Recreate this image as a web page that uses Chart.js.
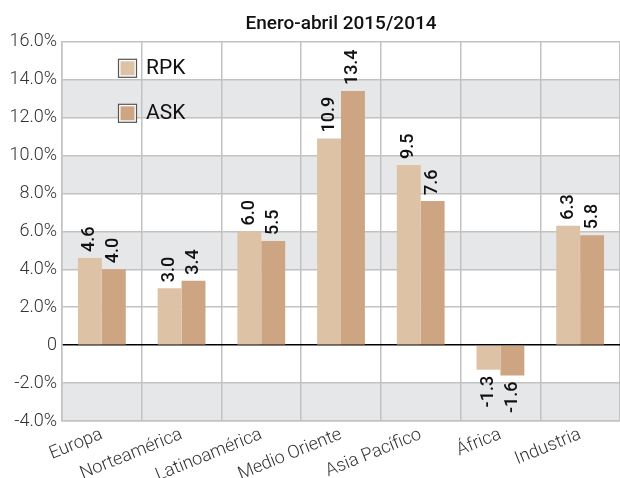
<!DOCTYPE html>
<html>
<head>
<meta charset="utf-8">
<script src="https://cdn.jsdelivr.net/npm/chart.js@4.4.1/dist/chart.umd.min.js"></script>
<style>
  html, body { margin: 0; padding: 0; background: #fff; }
  #chart { display: block; }
</style>
</head>
<body>
<canvas id="chart" width="620" height="478"></canvas>
<script>
// datos enero-abril 2015 vs 2014 (%)
const regiones = ["Europa", "Norteamérica", "Latinoamérica", "Medio Oriente", "Asia Pacífico", "África", "Industria"];
const rpk = [4.6, 3.0, 6.0, 10.9, 9.5, -1.3, 6.3];
const ask = [4.0, 3.4, 5.5, 13.4, 7.6, -1.6, 5.8];
const series = ["RPK", "ASK"];
const yTicks = ["-4.0%", "-2.0%", "0", "2.0%", "4.0%", "6.0%", "8.0%", "10.0%", "12.0%", "14.0%", "16.0%"];
const titulo = "Enero-abril 2015/2014";

const colores = ["#dec2a6", "#cea582"];
const franjas = [[12, 14], [8, 10], [4, 6], [-4, -2]]; // bandas grises
const FONT = "Roboto, 'Liberation Sans', sans-serif";
const GRIS = "#c2c2c2";

// fondo blanco + bandas alternas
const bandas = {
    id: "bandas",
    beforeDraw(chart) {
        const { ctx, chartArea: a, scales } = chart;
        ctx.save();
        ctx.fillStyle = "#fff";
        ctx.fillRect(0, 0, chart.width, chart.height);
        ctx.fillStyle = "#e6e7e9";
        franjas.forEach(([lo, hi]) => {
            const t = scales.y.getPixelForValue(hi);
            const b = scales.y.getPixelForValue(lo);
            ctx.fillRect(a.left, t, a.right - a.left, b - t);
        });
        ctx.restore();
    },
};

// valores girados encima / debajo de cada barra
const etiquetas = {
    id: "etiquetas",
    afterDatasetsDraw(chart) {
        const ctx = chart.ctx;
        ctx.save();
        ctx.font = `500 18px ${FONT}`;
        ctx.fillStyle = "#111";
        ctx.textBaseline = "middle";
        chart.data.datasets.forEach((ds, i) => {
            chart.getDatasetMeta(i).data.forEach((bar, j) => {
                const v = ds.data[j];
                const neg = v < 0;
                ctx.save();
                ctx.translate(bar.x, neg ? bar.y + 6 : bar.y - 6);
                ctx.rotate(-Math.PI / 2);
                ctx.textAlign = neg ? "right" : "left";
                ctx.fillText(v.toFixed(1), 0, 0);
                ctx.restore();
            });
        });
        ctx.restore();
    },
};

// leyenda dentro del área del gráfico
const leyenda = {
    id: "leyenda",
    afterDraw(chart) {
        const { ctx, chartArea: a } = chart;
        ctx.save();
        ctx.font = `400 21px ${FONT}`;
        ctx.textBaseline = "middle";
        ctx.textAlign = "left";
        chart.data.datasets.forEach((ds, i) => {
            const x = a.left + 56;
            const y = a.top + 17 + i * 45;
            ctx.fillStyle = "#fff";
            ctx.fillRect(x, y, 19, 19);
            ctx.strokeStyle = "#555";
            ctx.lineWidth = 1.2;
            ctx.strokeRect(x + 0.5, y + 0.5, 18, 18);
            ctx.fillStyle = ds.backgroundColor;
            ctx.fillRect(x + 2.5, y + 2.5, 14, 14);
            ctx.fillStyle = "#111";
            ctx.fillText(ds.label, x + 28, y + 10);
        });
        ctx.restore();
    },
};

new Chart(document.getElementById("chart"), {
    type: "bar",
    data: {
        labels: regiones,
        datasets: [rpk, ask].map((d, i) => ({
            label: series[i],
            data: d,
            backgroundColor: colores[i],
            borderWidth: 0,
            categoryPercentage: 0.6,
            barPercentage: 1.0,
        })),
    },
    options: {
        responsive: false,
        animation: false,
        devicePixelRatio: 1,
        layout: { padding: 0 },
        plugins: {
            legend: { display: false },
            tooltip: { enabled: false },
            title: {
                display: true,
                text: titulo,
                fullSize: false,
                color: "#111",
                font: { family: FONT, size: 19, weight: "500", lineHeight: 1.2 },
                padding: { top: 13, bottom: 6 },
            },
        },
        scales: {
            x: {
                grid: { color: GRIS, lineWidth: 1.5, drawTicks: false, offset: true },
                border: { color: GRIS, width: 1.5 },
                ticks: {
                    autoSkip: false,
                    minRotation: 22,
                    maxRotation: 22,
                    padding: 3,
                    color: "#333",
                    font: { family: FONT, size: 18, weight: "300" },
                },
                afterFit(s) { s.height = 57; },
            },
            y: {
                min: -4,
                max: 16,
                ticks: {
                    stepSize: 2,
                    padding: 5,
                    color: "#333",
                    font: { family: FONT, size: 18, weight: "300" },
                    callback: (v, i) => yTicks[i],
                },
                grid: {
                    color: (c) => (c.tick && c.tick.value === 0 ? "#000" : GRIS),
                    lineWidth: 1.5,
                    drawTicks: false,
                },
                border: { color: GRIS, width: 1.5 },
                afterFit(s) { s.width = 62; },
            },
        },
    },
    plugins: [bandas, etiquetas, leyenda],
});
</script>
</body>
</html>
